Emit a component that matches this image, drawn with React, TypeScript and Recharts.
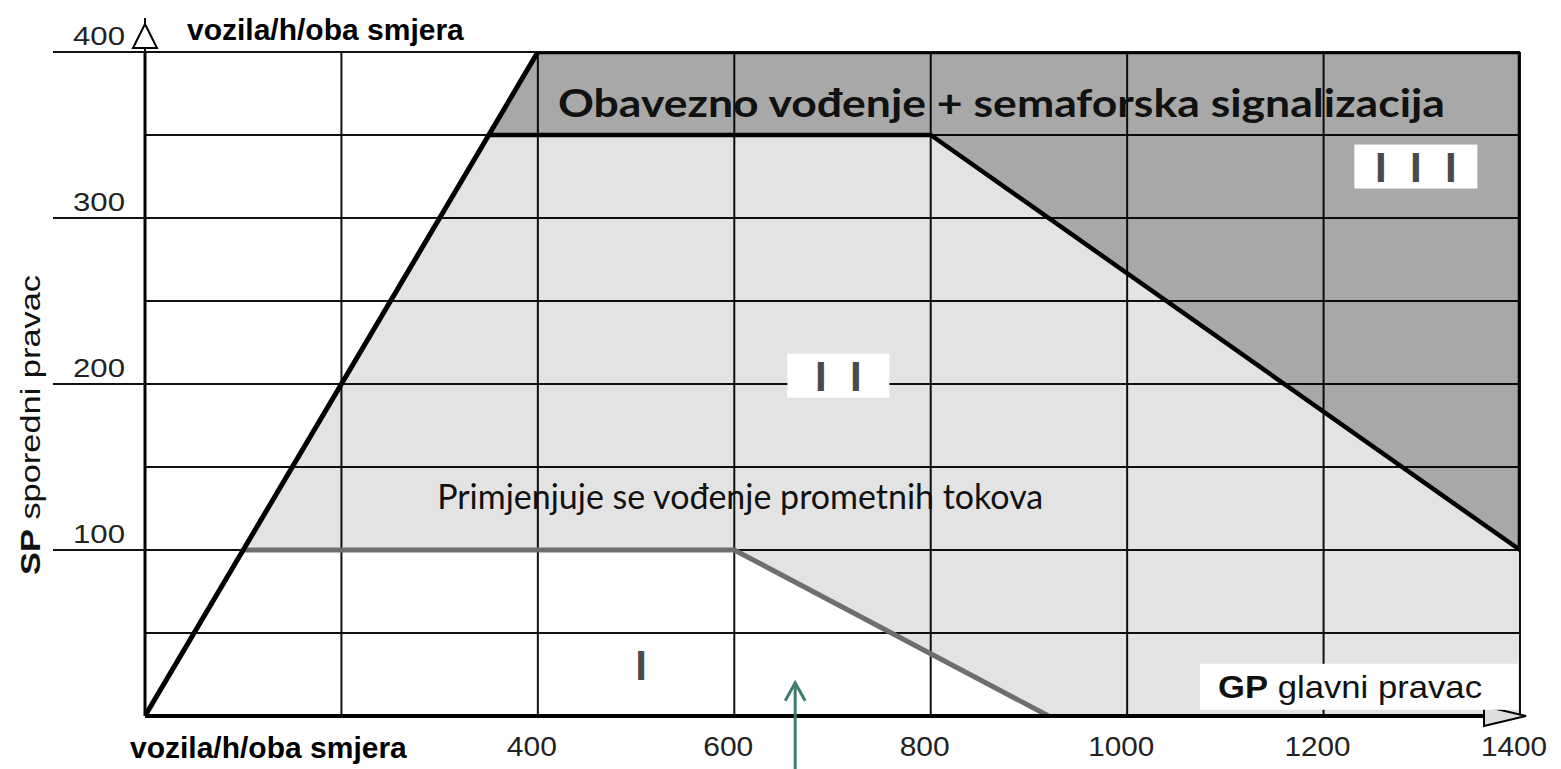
import React from 'react'
import { ComposedChart, Area, Line, XAxis, YAxis, CartesianGrid, ReferenceDot } from 'recharts'

// axes: glavni pravac (x) i sporedni pravac (y), vozila/h
const xTicks = [0, 200, 400, 600, 800, 1000, 1200, 1400]
const yTicks = [0, 50, 100, 150, 200, 250, 300, 350, 400]
const xLabelled = [400, 600, 800, 1000, 1200, 1400]
const yLabelled = [100, 200, 300, 400]

// zona II (svijetla), ide i ispod zone III
const zoneII = [
  { x: 100, range: [100, 100] },
  { x: 400, range: [100, 400] },
  { x: 600, range: [100, 400] },
  { x: 920, range: [0, 400] },
  { x: 1400, range: [0, 400] },
]

// zona III (tamna)
const zoneIII = [
  { x: 350, range: [350, 350] },
  { x: 400, range: [350, 400] },
  { x: 800, range: [350, 400] },
  { x: 1400, range: [100, 400] },
]

const limitLine = [
  { x: 0, y: 0 },
  { x: 400, y: 400 },
]

const zoneIIIBorder = [
  { x: 350, y: 350 },
  { x: 800, y: 350 },
  { x: 1400, y: 100 },
  { x: 1400, y: 400 },
  { x: 400, y: 400 },
]

const zoneIBorder = [
  { x: 100, y: 100 },
  { x: 600, y: 100 },
  { x: 920, y: 0 },
]

const SANS = "'Liberation Sans', Arial, sans-serif"
const HUMAN = "Lato, 'Open Sans', sans-serif"

function XTick({ x, y, payload }: any) {
  if (!xLabelled.includes(payload.value)) return <g />
  const w = payload.value >= 1000 ? 66 : 50
  return (
    <text x={x - 6} y={y + 40} textAnchor="middle" fontFamily={SANS} fontSize={27} fill="#222"
      textLength={w} lengthAdjust="spacingAndGlyphs">
      {payload.value}
    </text>
  )
}

function YTick({ x, y, payload }: any) {
  if (!yLabelled.includes(payload.value)) return <g />
  return (
    <g>
      <line x1={x - 92} x2={x} y1={y} y2={y} stroke="#111" strokeWidth={2} />
      <text x={x - 20} y={y - 7} textAnchor="end" fontFamily={SANS} fontSize={25} fill="#222"
        textLength={52} lengthAdjust="spacingAndGlyphs">
        {payload.value}
      </text>
    </g>
  )
}

function YTitle({ viewBox }: any) {
  const cx = viewBox.x - 15
  const cy = viewBox.y + viewBox.height / 2 + 41
  return (
    <text x={cx} y={cy} transform={`rotate(-90 ${cx} ${cy})`} textAnchor="middle" dominantBaseline="central"
      fontFamily={SANS} fontSize={28} fill="#111" textLength={300} lengthAdjust="spacingAndGlyphs">
      <tspan fontWeight={700}>SP</tspan> sporedni pravac
    </text>
  )
}

function Roman({ cx, cy, count, box }: any) {
  const gap = 35
  const start = cx - ((count - 1) * gap) / 2
  return (
    <g>
      {box && <rect x={cx - box / 2} y={cy - 22} width={box} height={44} fill="#fff" />}
      {Array.from({ length: count }).map((_, i) => (
        <text key={i} x={start + i * gap} y={cy + 15} textAnchor="middle" fontFamily={SANS}
          fontWeight={700} fontSize={42} fill="#4a4a4a">
          I
        </text>
      ))}
    </g>
  )
}

export default function App() {
  return (
    <div style={{ position: 'absolute', left: 0, top: 0, background: '#fff' }}>
      <ComposedChart width={1561} height={769} margin={{ top: 52, right: 41, bottom: 13, left: 45 }}>
        <CartesianGrid stroke="#111" strokeWidth={2} fill="#fff" />
        <XAxis
          type="number"
          dataKey="x"
          domain={[0, 1400]}
          ticks={xTicks}
          allowDataOverflow
          height={40}
          tickSize={0}
          tickMargin={0}
          tickLine={false}
          axisLine={{ stroke: '#000', strokeWidth: 4 }}
          tick={<XTick />}
        />
        <YAxis
          type="number"
          domain={[0, 400]}
          ticks={yTicks}
          allowDataOverflow
          width={100}
          tickSize={0}
          tickMargin={0}
          tickLine={false}
          axisLine={{ stroke: '#000', strokeWidth: 3 }}
          tick={<YTick />}
          label={{ content: <YTitle /> }}
        />
        <Area data={zoneII} dataKey="range" type="linear" stroke="none" fill="#000" fillOpacity={0.11}
          isAnimationActive={false} />
        <Area data={zoneIII} dataKey="range" type="linear" stroke="none" fill="#000" fillOpacity={0.26}
          isAnimationActive={false} />
        <Line data={zoneIBorder} dataKey="y" type="linear" stroke="#6e6e6e" strokeWidth={5} dot={false}
          isAnimationActive={false} />
        <Line data={zoneIIIBorder} dataKey="y" type="linear" stroke="#000" strokeWidth={4.5} dot={false}
          strokeLinejoin="round" isAnimationActive={false} />
        <Line data={limitLine} dataKey="y" type="linear" stroke="#000" strokeWidth={5} dot={false}
          isAnimationActive={false} />

        {/* strelice osi */}
        <ReferenceDot x={0} y={400} r={0} shape={({ cx, cy }: any) => (
          <g stroke="#000" strokeWidth={2}>
            <line x1={cx} x2={cx} y1={cy} y2={cy - 34} />
            <polygon points={`${cx - 12},${cy - 4} ${cx},${cy - 28} ${cx + 12},${cy - 4}`} fill="#fff" />
          </g>
        )} />
        <ReferenceDot x={1400} y={0} r={0} shape={({ cx, cy }: any) => (
          <polygon points={`${cx - 36},${cy - 10} ${cx + 6},${cy} ${cx - 36},${cy + 10}`} fill="#ddd"
            stroke="#000" strokeWidth={2} />
        )} />

        {/* jedinice */}
        <ReferenceDot x={0} y={400} r={0} shape={({ cx, cy }: any) => (
          <text x={cx + 42} y={cy - 12} fontFamily={SANS} fontWeight={700} fontSize={30} fill="#000">
            vozila/h/oba smjera
          </text>
        )} />
        <ReferenceDot x={0} y={0} r={0} shape={({ cx, cy }: any) => (
          <text x={cx - 15} y={cy + 42} fontFamily={SANS} fontWeight={700} fontSize={30} fill="#000">
            vozila/h/oba smjera
          </text>
        )} />

        {/* natpisi zona */}
        <ReferenceDot x={872} y={361} r={0} shape={({ cx, cy }: any) => (
          <text x={cx} y={cy} textAnchor="middle" fontFamily={HUMAN} fontWeight={700} fontSize={39} fill="#111"
            textLength={887} lengthAdjust="spacingAndGlyphs">
            Obavezno vođenje + semaforska signalizacija
          </text>
        )} />
        <ReferenceDot x={606} y={125} r={0} shape={({ cx, cy }: any) => (
          <text x={cx} y={cy} textAnchor="middle" fontFamily={HUMAN} fontSize={34} fill="#111"
            textLength={606} lengthAdjust="spacingAndGlyphs">
            Primjenjuje se vođenje prometnih tokova
          </text>
        )} />
        <ReferenceDot x={1294} y={331} r={0} shape={({ cx, cy }: any) => (
          <Roman cx={cx} cy={cy} count={3} box={123} />
        )} />
        <ReferenceDot x={706} y={205} r={0} shape={({ cx, cy }: any) => (
          <Roman cx={cx} cy={cy} count={2} box={102} />
        )} />
        <ReferenceDot x={505} y={31} r={0} shape={({ cx, cy }: any) => (
          <Roman cx={cx} cy={cy} count={1} />
        )} />
        <ReferenceDot x={1232} y={17} r={0} shape={({ cx, cy }: any) => (
          <g>
            <rect x={cx - 155} y={cy - 24} width={318} height={46} fill="#fff" />
            <text x={cx - 5} y={cy + 10} textAnchor="middle" fontFamily={SANS} fontSize={32} fill="#111"
              textLength={264} lengthAdjust="spacingAndGlyphs">
              <tspan fontWeight={700}>GP</tspan> glavni pravac
            </text>
          </g>
        )} />

        {/* strelica prema zoni I */}
        <ReferenceDot x={662} y={20} r={0} shape={({ cx, cy }: any) => (
          <g stroke="#3e7b6f" strokeWidth={3} fill="none">
            <line x1={cx} x2={cx} y1={cy} y2={cy + 90} />
            <polyline points={`${cx - 10},${cy + 18} ${cx},${cy} ${cx + 10},${cy + 18}`} />
          </g>
        )} />
      </ComposedChart>
    </div>
  )
}
